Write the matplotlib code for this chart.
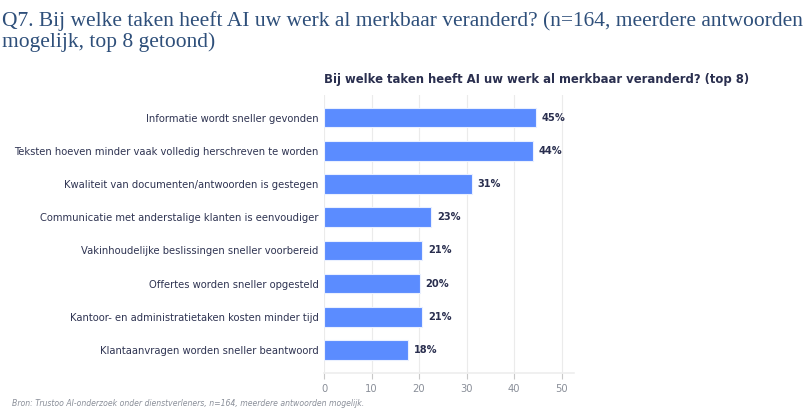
import matplotlib
matplotlib.use("Agg")
import matplotlib.pyplot as plt

categories = [
    "Informatie wordt sneller gevonden",
    "Teksten hoeven minder vaak volledig herschreven te worden",
    "Kwaliteit van documenten/antwoorden is gestegen",
    "Communicatie met anderstalige klanten is eenvoudiger",
    "Vakinhoudelijke beslissingen sneller voorbereid",
    "Offertes worden sneller opgesteld",
    "Kantoor- en administratietaken kosten minder tijd",
    "Klantaanvragen worden sneller beantwoord",
]
values = [44.5, 43.9, 31.1, 22.6, 20.7, 20.1, 20.7, 17.7]
xticks = [0, 10, 20, 30, 40, 50]

page_title_lines = [
    "Q7. Bij welke taken heeft AI uw werk al merkbaar veranderd? (n=164, meerdere antwoorden",
    "mogelijk, top 8 getoond)",
]
chart_title = "Bij welke taken heeft AI uw werk al merkbaar veranderd? (top 8)"
footer = "Bron: Trustoo AI-onderzoek onder dienstverleners, n=164, meerdere antwoorden mogelijk."

W, H = 810, 416
fig = plt.figure(figsize=(W / 100, H / 100), dpi=100)
fig.patch.set_facecolor("white")

left, right, top, bottom = 324, 574, 95, 372.7
ax = fig.add_axes([left / W, 1 - bottom / H, (right - left) / W, (bottom - top) / H])

ypos = list(range(len(categories)))
ax.barh(ypos, values, height=0.59, color="#5B8CFF", edgecolor="#EAF0FF", linewidth=0.8, zorder=3)
for y, v in zip(ypos, values):
    ax.text(v + 1.2, y, f"{int(v + 0.5)}%", va="center", ha="left", fontsize=7.1,
            fontweight="bold", color="#2A2F4F", family="DejaVu Sans")

ax.set_ylim(len(categories) - 1 + 0.68, -0.68)
ax.set_xlim(0, 52.6)
ax.set_yticks(ypos)
ax.set_yticklabels(categories, fontsize=7.2, color="#2F3452", family="DejaVu Sans")
ax.set_xticks(xticks)
ax.set_xticklabels([str(t) for t in xticks], fontsize=7.2, color="#8A8F99", family="DejaVu Sans")
ax.tick_params(axis="y", length=0, pad=4)
ax.tick_params(axis="x", length=4, width=0.8, color="#C8C8C8", pad=4, direction="out")
ax.grid(axis="x", color="#EBEBEB", linewidth=0.8, zorder=0)
ax.set_axisbelow(True)
for s in ["top", "right", "left"]:
    ax.spines[s].set_visible(False)
ax.spines["bottom"].set_color("#EEEEEE")
ax.spines["bottom"].set_linewidth(1.2)

for line, base in zip(page_title_lines, [26, 46.7]):
    fig.text(2 / W, 1 - base / H, line, ha="left", va="baseline", fontsize=15.5,
             family="Liberation Serif", color="#2E4F7A")
fig.text(537 / W, 1 - 79 / H, chart_title, ha="center", va="center", fontsize=8.4,
         fontweight="bold", color="#2A2F4F", family="DejaVu Sans")
fig.text(12 / W, 1 - 403 / H, footer, ha="left", va="center", fontsize=5.6,
         style="italic", color="#8A8F99", family="DejaVu Sans")

fig.savefig("out.png", dpi=100, facecolor="white")
